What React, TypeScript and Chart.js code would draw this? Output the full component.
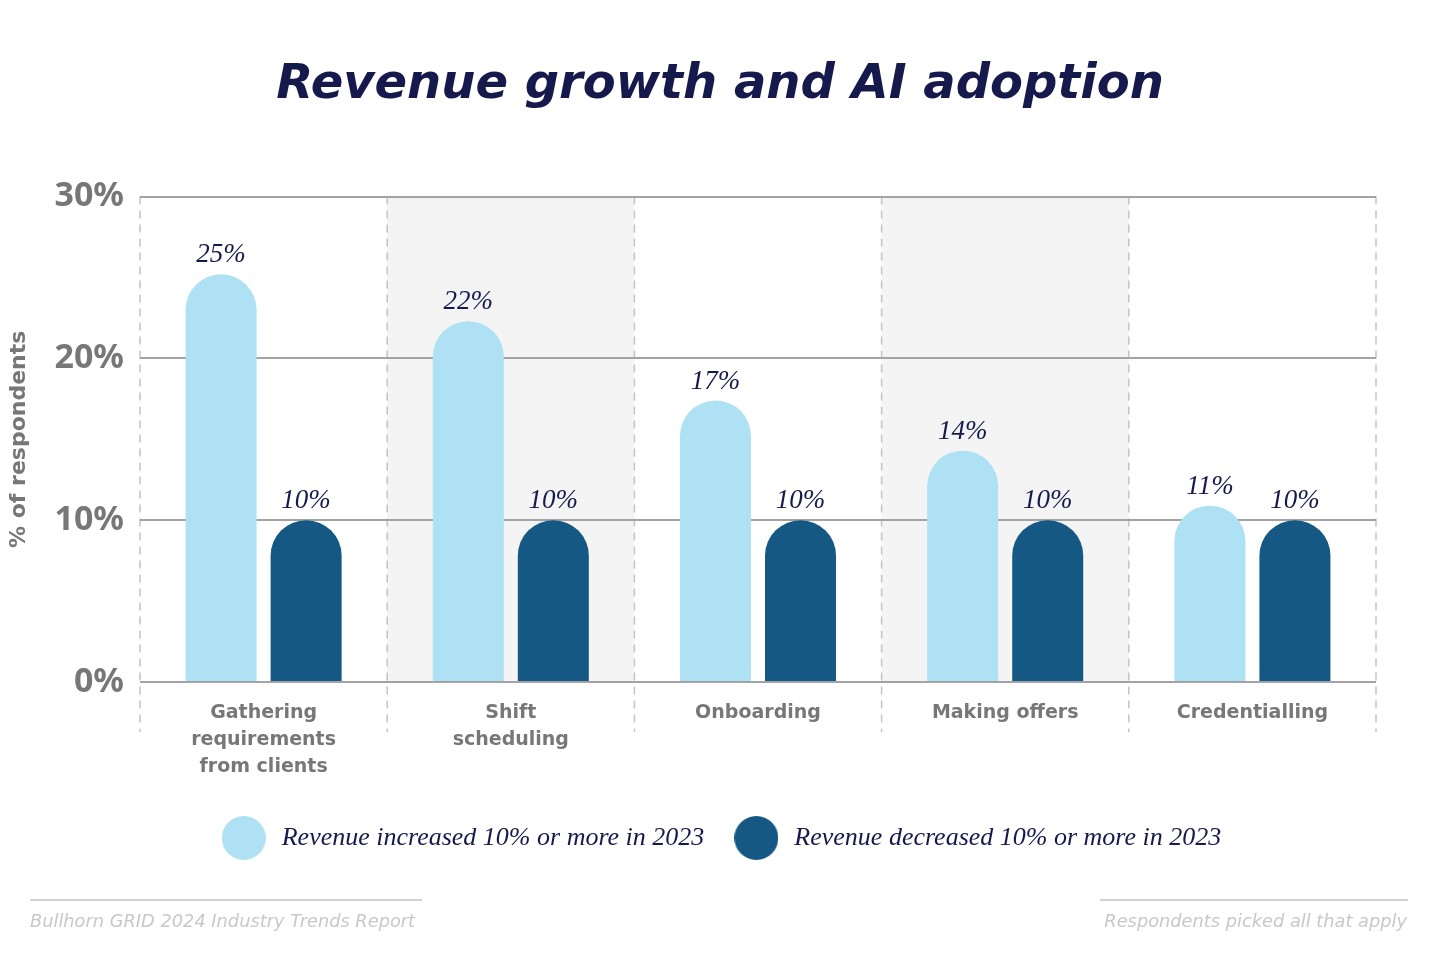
import React, { useEffect, useRef } from 'react';
import { Chart, registerables } from 'chart.js';

Chart.register(...registerables);

// ---- Data ----
const categories: string[][] = [
  ['Gathering', 'requirements', 'from clients'],
  ['Shift', 'scheduling'],
  ['Onboarding'],
  ['Making offers'],
  ['Credentialling'],
];
const increasedValues = [25.2, 22.3, 17.4, 14.3, 10.9];
const decreasedValues = [10, 10, 10, 10, 10];
const seriesNames = [
  'Revenue increased 10% or more in 2023',
  'Revenue decreased 10% or more in 2023',
];
const yTickValues = [0, 10, 20, 30];
const shadedCategories = [1, 3];
const titleText = 'Revenue growth and AI adoption';
const yAxisTitle = '% of respondents';
const footerLeft = 'Bullhorn GRID 2024 Industry Trends Report';
const footerRight = 'Respondents picked all that apply';

// ---- Styles ----
const NAVY = '#15194b';
const LIGHT = '#ade1f3';
const DARK = '#155883';
const AXIS_GRAY = '#777777';
const GRID_GRAY = '#a3a3a3';
const SHADE = '#f4f4f4';
const DASH_GRAY = '#c4c4c4';
const FOOT_GRAY = '#c8c8c8';

function makeDot(color: string, d: number): HTMLCanvasElement {
  const c = document.createElement('canvas');
  c.width = d;
  c.height = d;
  const g = c.getContext('2d')!;
  g.fillStyle = color;
  g.beginPath();
  g.arc(d / 2, d / 2, d / 2, 0, Math.PI * 2);
  g.fill();
  return c;
}

const bandsPlugin = {
  id: 'bands',
  beforeDraw(chart: any) {
    const x = chart.scales.x;
    const { top, bottom } = chart.chartArea;
    const n = categories.length;
    const w = (x.right - x.left) / n;
    const ctx = chart.ctx;
    ctx.save();
    ctx.fillStyle = SHADE;
    shadedCategories.forEach((i) => {
      const cx = x.getPixelForValue(i);
      ctx.fillRect(cx - w / 2, top, w, bottom - top);
    });
    ctx.strokeStyle = DASH_GRAY;
    ctx.lineWidth = 1.5;
    ctx.setLineDash([8, 6]);
    for (let i = 0; i <= n; i++) {
      const bx = i < n ? x.getPixelForValue(i) - w / 2 : x.getPixelForValue(n - 1) + w / 2;
      ctx.beginPath();
      ctx.moveTo(bx, top);
      ctx.lineTo(bx, bottom + 50);
      ctx.stroke();
    }
    ctx.restore();
  },
};

const valueLabelPlugin = {
  id: 'valueLabels',
  afterDatasetsDraw(chart: any) {
    const ctx = chart.ctx;
    ctx.save();
    ctx.fillStyle = NAVY;
    ctx.font = 'italic 27px "Liberation Serif"';
    ctx.textAlign = 'center';
    ctx.textBaseline = 'middle';
    chart.data.datasets.forEach((ds: any, di: number) => {
      const meta = chart.getDatasetMeta(di);
      meta.data.forEach((el: any, i: number) => {
        ctx.fillText(Math.round(ds.data[i]) + '%', el.x, el.y - 19);
      });
    });
    ctx.restore();
  },
};

const footerPlugin = {
  id: 'footer',
  afterDraw(chart: any) {
    const ctx = chart.ctx;
    ctx.save();
    ctx.strokeStyle = '#d2d2d2';
    ctx.lineWidth = 2;
    ctx.beginPath();
    ctx.moveTo(30, 900);
    ctx.lineTo(422, 900);
    ctx.moveTo(1100, 900);
    ctx.lineTo(1408, 900);
    ctx.stroke();
    ctx.fillStyle = FOOT_GRAY;
    ctx.font = 'oblique 17.8px "DejaVu Sans"';
    ctx.textBaseline = 'middle';
    ctx.textAlign = 'left';
    ctx.fillText(footerLeft, 30, 922);
    ctx.textAlign = 'right';
    ctx.fillText(footerRight, 1407, 922);
    ctx.restore();
  },
};

export default function App() {
  const ref = useRef<HTMLCanvasElement | null>(null);

  useEffect(() => {
    if (!ref.current) return;
    const dots = [makeDot(LIGHT, 44), makeDot(DARK, 44)];
    const colors = [LIGHT, DARK];
    const chart = new Chart(ref.current, {
      type: 'bar',
      data: {
        labels: categories as any,
        datasets: [
          {
            label: seriesNames[0],
            data: increasedValues,
            backgroundColor: LIGHT,
            borderRadius: { topLeft: 40, topRight: 40, bottomLeft: 0, bottomRight: 0 },
            borderSkipped: 'start',
            categoryPercentage: 0.688,
            barPercentage: 0.835,
          },
          {
            label: seriesNames[1],
            data: decreasedValues,
            backgroundColor: DARK,
            borderRadius: { topLeft: 40, topRight: 40, bottomLeft: 0, bottomRight: 0 },
            borderSkipped: 'start',
            categoryPercentage: 0.688,
            barPercentage: 0.835,
          },
        ],
      },
      options: {
        responsive: false,
        animation: false,
        layout: { padding: { top: 0, left: 0, right: 0, bottom: 95 } },
        plugins: {
          title: {
            display: true,
            text: titleText,
            color: NAVY,
            font: { family: '"DejaVu Sans"', size: 48, weight: 'bold', style: 'oblique' },
            padding: { top: 57, bottom: 82 },
          },
          legend: {
            display: true,
            position: 'bottom',
            labels: {
              usePointStyle: true,
              pointStyleWidth: 50,
              padding: 27,
              font: { family: '"Liberation Serif"', size: 26, style: 'italic' },
              color: NAVY,
              generateLabels: (c: any) =>
                c.data.datasets.map((ds: any, i: number) => ({
                  text: ds.label,
                  pointStyle: dots[i],
                  fillStyle: colors[i],
                  strokeStyle: colors[i],
                  lineWidth: 0,
                  hidden: false,
                  datasetIndex: i,
                  fontColor: NAVY,
                })),
            },
          },
          tooltip: { enabled: false },
        },
        scales: {
          x: {
            grid: { display: false, drawTicks: false },
            border: { display: false },
            ticks: {
              color: AXIS_GRAY,
              padding: 18,
              font: { family: '"DejaVu Sans"', size: 19, weight: 'bold', lineHeight: 1.42 },
              maxRotation: 0,
              autoSkip: false,
            },
            afterFit: (s: any) => {
              s.height = 116;
            },
          },
          y: {
            min: 0,
            max: 30,
            afterBuildTicks: (s: any) => {
              s.ticks = yTickValues.map((v) => ({ value: v }));
            },
            ticks: {
              color: AXIS_GRAY,
              padding: 16,
              font: { family: '"Noto Sans"', size: 34, weight: 'bold' },
              callback: (v: any) => v + '%',
            },
            grid: { color: GRID_GRAY, lineWidth: 2, drawTicks: false },
            border: { display: false },
            title: {
              display: true,
              text: yAxisTitle,
              color: AXIS_GRAY,
              font: { family: '"DejaVu Sans"', size: 22, weight: 'bold' },
              padding: { top: 6, bottom: 0 },
            },
            afterFit: (s: any) => {
              s.width = 140;
            },
          },
          yRight: {
            type: 'linear',
            position: 'right',
            display: true,
            ticks: { display: false },
            grid: { display: false, drawTicks: false },
            border: { display: false },
            afterFit: (s: any) => {
              s.width = 64;
            },
          },
        },
      } as any,
      plugins: [bandsPlugin, valueLabelPlugin, footerPlugin],
    });
    return () => chart.destroy();
  }, []);

  return (
    <div style={{ position: 'absolute', left: 0, top: 0, width: 1440, height: 956, background: '#ffffff' }}>
      <canvas ref={ref} width={1440} height={956} style={{ display: 'block' }} />
    </div>
  );
}
